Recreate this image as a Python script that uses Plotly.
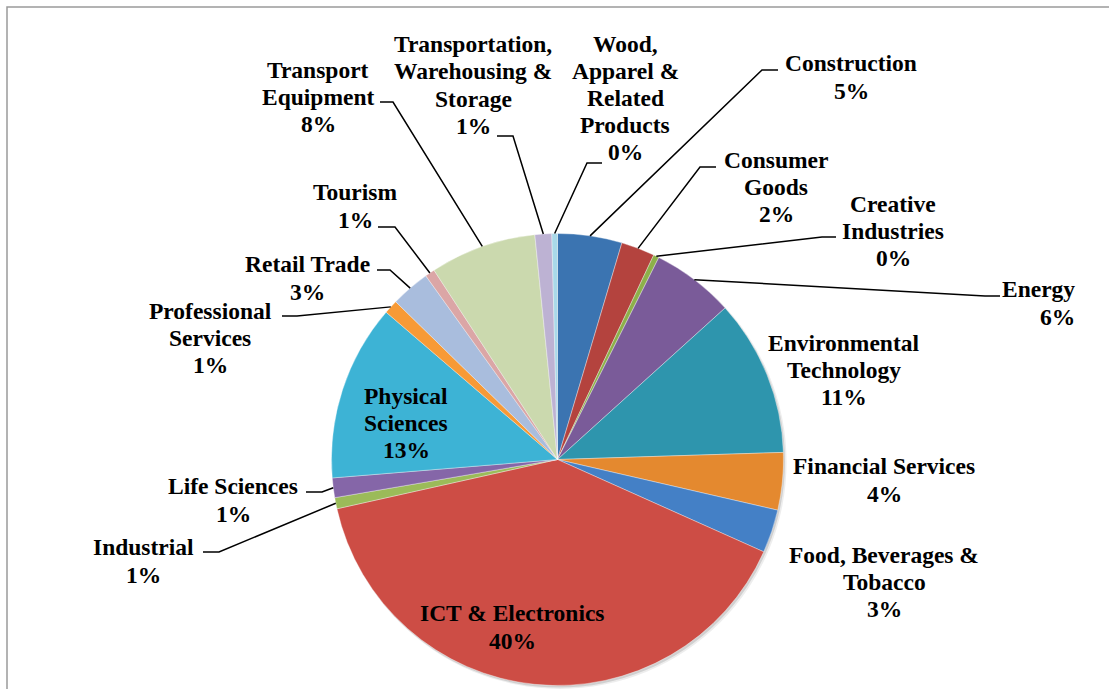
import math
import plotly.graph_objects as go

W, H = 1109, 689

# Sector shares of projects (%), clockwise from 12 o'clock
sectors = [
    "Construction", "Consumer Goods", "Creative Industries", "Energy",
    "Environmental Technology", "Financial Services", "Food, Beverages & Tobacco",
    "ICT & Electronics", "Industrial", "Life Sciences", "Physical Sciences",
    "Professional Services", "Retail Trade", "Tourism", "Transport Equipment",
    "Transportation, Warehousing & Storage", "Wood, Apparel & Related Products",
]
shares = [4.6, 2.4, 0.4, 5.9, 11.2, 4.1, 3.1, 39.8, 0.8, 1.4, 12.6, 1.0, 2.8, 0.7, 7.6, 1.2, 0.4]

# How each sector name wraps in its label
name_lines = [
    ["Construction"], ["Consumer", "Goods"], ["Creative", "Industries"], ["Energy"],
    ["Environmental", "Technology"], ["Financial Services"], ["Food, Beverages &", "Tobacco"],
    ["ICT & Electronics"], ["Industrial"], ["Life Sciences"], ["Physical", "Sciences"],
    ["Professional", "Services"], ["Retail Trade"], ["Tourism"], ["Transport", "Equipment"],
    ["Transportation,", "Warehousing &", "Storage"], ["Wood,", "Apparel &", "Related", "Products"],
]

colors = [
    "#3b74b1", "#b4433e", "#8db04a", "#7a5b99", "#2e95ad", "#e4892f", "#4480c6",
    "#cd4d45", "#9bbb59", "#8566a8", "#3db3d5", "#f79a36", "#a9bddd", "#dba6a6",
    "#cbd9ae", "#bdb2d3", "#a9d9e9",
]

# Pie geometry in pixels
CX, CY, R = 557.5, 459.5, 226.0

# Label placement (pixels): text centre x, block centre y, horizontal anchor,
# and leader line start/elbow (None when the label sits beside its slice)
label_pos = [
    (851, 77, "center", (778, 70, 762)),
    (776, 187, "center", (716, 167, 700)),
    (893, 231, "center", (836, 237, 822)),
    (1077, 303, "right", (1000, 296, 985)),
    (844, 370, "center", None),
    (884, 480, "center", None),
    (884, 582, "center", None),
    (512, 627, "center", None),
    (143, 561, "center", (203, 552, 219)),
    (233, 500, "center", (306, 492, 322)),
    (406, 423, "center", None),
    (210, 338, "center", (282, 316, 297)),
    (307, 278, "center", (377, 270, 390)),
    (355, 206, "center", (378, 227, 395)),
    (318, 97, "center", (380, 102, 393)),
    (473, 85, "center", (497, 136, 513)),
    (625, 98, "center", (602, 163, 587)),
]

FONT = dict(family="Liberation Serif", size=23.5, color="black")
LINE_STEP = 27.2


def px(x):
    return x / W


def py(y):
    return 1 - y / H


def clamp(v):
    return min(1.0, max(0.0, v))


def pie_domain(cx, cy, r):
    return dict(x=[clamp(px(cx - r)), clamp(px(cx + r))],
                y=[clamp(py(cy + r)), clamp(py(cy - r))])


total = sum(shares)

fig = go.Figure()

# soft drop shadow: translucent discs offset down-right, beneath the pie
for dx, dy, grow, alpha in [(2.5, 2.8, 0.6, 0.07), (1.5, 2.0, 0.0, 0.12)]:
    fig.add_trace(go.Pie(
        values=[1], labels=["shadow"], sort=False,
        marker=dict(colors=[f"rgba(0,0,0,{alpha})"], line=dict(width=0)),
        textinfo="none", hoverinfo="skip", showlegend=False,
        domain=pie_domain(CX + dx, CY + dy, R + grow),
    ))

fig.add_trace(go.Pie(
    labels=sectors,
    values=shares,
    sort=False,
    direction="clockwise",
    rotation=0,
    marker=dict(colors=colors, line=dict(color="rgba(255,255,255,0.6)", width=0.6)),
    textinfo="none",
    hoverinfo="label+percent",
    showlegend=False,
    domain=pie_domain(CX, CY, R),
))

annotations = []
shapes = []

# chart border
shapes.append(dict(
    type="rect", xref="paper", yref="paper",
    x0=px(7), x1=px(W + 10), y0=py(H + 10), y1=py(7),
    line=dict(color="#9a9a9a", width=1.5), fillcolor="rgba(0,0,0,0)",
))

cum = 0.0
for name, val, lines, (lx, ly, anchor, leader) in zip(sectors, shares, name_lines, label_pos):
    mid = (cum + val / 2) / total * 2 * math.pi
    cum += val
    pct = f"{round(val / total * 100)}%"
    text_lines = lines + [pct]
    n = len(text_lines)
    for i, t in enumerate(text_lines):
        annotations.append(dict(
            x=px(lx), y=py(ly + (i - (n - 1) / 2) * LINE_STEP),
            xref="paper", yref="paper", text=f"<b>{t}</b>", showarrow=False,
            xanchor=anchor, yanchor="middle", font=FONT,
        ))
    if leader:
        sx, sy, ex = leader
        edge_x = CX + R * math.sin(mid)
        edge_y = CY - R * math.cos(mid)
        shapes.append(dict(
            type="path", xref="paper", yref="paper",
            path=f"M {px(sx)},{py(sy)} L {px(ex)},{py(sy)} L {px(edge_x)},{py(edge_y)}",
            line=dict(color="black", width=1.5),
        ))

fig.update_layout(
    width=W, height=H,
    margin=dict(l=0, r=0, t=0, b=0),
    paper_bgcolor="white",
    plot_bgcolor="white",
    annotations=annotations,
    shapes=shapes,
)

fig.write_html("out.html")
